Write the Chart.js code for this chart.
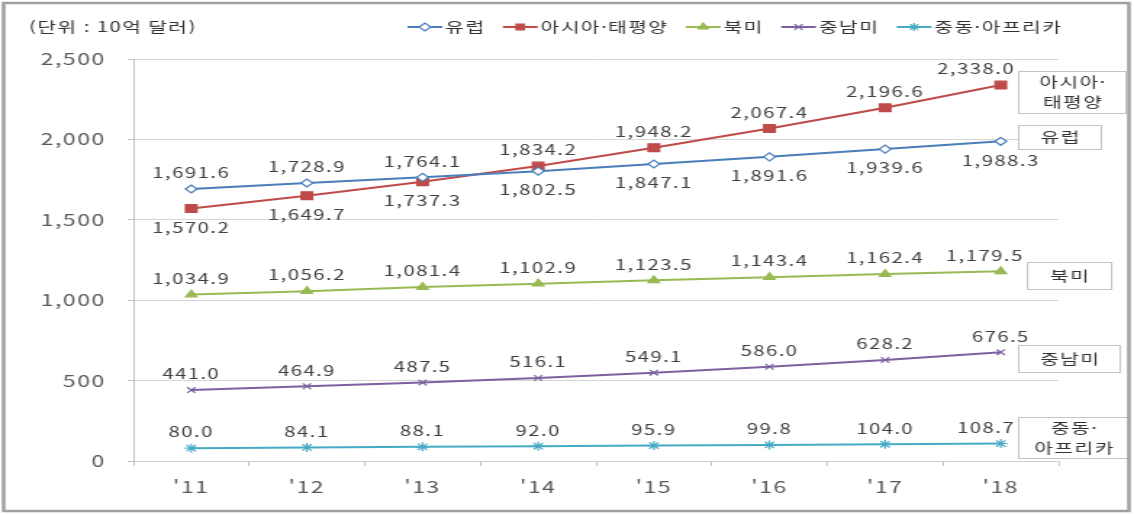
<!DOCTYPE html>
<html lang="ko">
<head>
<meta charset="utf-8">
<title>지역별 시장 규모</title>
<script src="https://cdn.jsdelivr.net/npm/chart.js@4/dist/chart.umd.min.js"></script>
<style>
  html, body { margin: 0; padding: 0; background: #fff; }
  #chart { display: block; }
</style>
</head>
<body>
<!-- the reference image is stretched sideways, so the canvas is drawn narrow and widened by CSS -->
<canvas id="chart" width="782" height="515" style="width:1134px;height:515px"></canvas>
<script>
// --- data ---
const years = ["'11", "'12", "'13", "'14", "'15", "'16", "'17", "'18"];
const seriesNames = ['유럽', '아시아·태평양', '북미', '중남미', '중동·아프리카'];
const europe = [1691.6, 1728.9, 1764.1, 1802.5, 1847.1, 1891.6, 1939.6, 1988.3];
const asiaPacific = [1570.2, 1649.7, 1737.3, 1834.2, 1948.2, 2067.4, 2196.6, 2338.0];
const northAmerica = [1034.9, 1056.2, 1081.4, 1102.9, 1123.5, 1143.4, 1162.4, 1179.5];
const latinAmerica = [441.0, 464.9, 487.5, 516.1, 549.1, 586.0, 628.2, 676.5];
const middleEastAfrica = [80.0, 84.1, 88.1, 92.0, 95.9, 99.8, 104.0, 108.7];
const yTicks = [0, 500, 1000, 1500, 2000, 2500];
const unitText = '(단위 : 10억 달러)';

const FONT = "'Noto Sans CJK KR', 'Noto Sans', sans-serif";

const fmt = v => v.toLocaleString('en-US', { minimumFractionDigits: 1, maximumFractionDigits: 1 });

// label side per point: 'up' or 'down'
const europeSide = ['up', 'up', 'up', 'down', 'down', 'down', 'down', 'down'];
const asiaSide = ['down', 'down', 'down', 'up', 'up', 'up', 'up', 'up'];

function series(label, data, color, pointStyle, radius, fill, sides) {
    return {
        label,
        data,
        borderColor: color,
        backgroundColor: fill || color,
        pointBorderColor: color,
        pointBackgroundColor: fill || color,
        pointStyle,
        pointRadius: radius,
        pointBorderWidth: 1.2,
        borderWidth: 2,
        tension: 0,
        labelSides: sides || data.map(() => 'up'),
    };
}

const datasets = [
    series(seriesNames[0], europe, '#4A7EBB', 'rectRot', 4, '#ffffff', europeSide),
    series(seriesNames[1], asiaPacific, '#BE4B48', 'rect', 5.5, null, asiaSide),
    series(seriesNames[2], northAmerica, '#98B954', 'triangle', 4.5),
    series(seriesNames[3], latinAmerica, '#7D60A0', 'crossRot', 4),
    series(seriesNames[4], middleEastAfrica, '#46AAC5', 'star', 4.5),
];

// boxes with series names at the right edge (x, y, w, h in canvas px)
const sideBoxes = [
    { lines: ['아시아·', '태평양'], x: 702, y: 71, w: 74, h: 42 },
    { lines: ['유럽'], x: 702, y: 125, w: 57, h: 24 },
    { lines: ['북미'], x: 708, y: 262, w: 58, h: 27 },
    { lines: ['중남미'], x: 702, y: 345, w: 70, h: 27 },
    { lines: ['중동·', '아프리카'], x: 702, y: 417, w: 76, h: 41 },
];

const decorPlugin = {
    id: 'decor',
    beforeDraw(chart) {
        chart.ctx.letterSpacing = '1px';
    },
    afterDatasetsDraw(chart) {
        const ctx = chart.ctx;
        ctx.save();
        ctx.font = `14px ${FONT}`;
        ctx.fillStyle = '#404040';
        ctx.textAlign = 'center';
        ctx.textBaseline = 'middle';
        chart.data.datasets.forEach((ds, i) => {
            chart.getDatasetMeta(i).data.forEach((pt, j) => {
                const text = fmt(ds.data[j]);
                const w = ctx.measureText(text).width;
                const y = ds.labelSides[j] === 'down' ? pt.y + 19 : pt.y - 16;
                let x = pt.x;
                // keep labels clear of the name boxes on the right
                sideBoxes.forEach(b => {
                    if (y + 8 > b.y && y - 8 < b.y + b.h && x + w / 2 > b.x - 2) {
                        x = b.x - 2 - w / 2;
                    }
                });
                ctx.fillText(text, x, y);
            });
        });
        ctx.restore();
    },
    afterDraw(chart) {
        const ctx = chart.ctx;
        ctx.save();
        ctx.letterSpacing = '1px';

        // unit title
        ctx.font = `14px ${FONT}`;
        ctx.fillStyle = '#333333';
        ctx.textAlign = 'left';
        ctx.textBaseline = 'middle';
        ctx.fillText(unitText, 20, 27);

        // legend
        let x = 281;
        const ly = 27;
        chart.data.datasets.forEach(ds => {
            ctx.strokeStyle = ds.borderColor;
            ctx.lineWidth = 2;
            ctx.beginPath();
            ctx.moveTo(x, ly);
            ctx.lineTo(x + 24, ly);
            ctx.stroke();
            ctx.fillStyle = ds.pointBackgroundColor;
            ctx.strokeStyle = ds.pointBorderColor;
            ctx.lineWidth = 1.2;
            Chart.helpers.drawPoint(ctx, { pointStyle: ds.pointStyle, radius: Math.min(ds.pointRadius, 4), rotation: 0, borderWidth: 1.2 }, x + 12, ly);
            ctx.fillStyle = '#333333';
            ctx.fillText(ds.label, x + 26, ly);
            x += 26 + ctx.measureText(ds.label).width + 12;
        });

        // side boxes
        sideBoxes.forEach(b => {
            ctx.fillStyle = '#ffffff';
            ctx.fillRect(b.x, b.y, b.w, b.h);
            ctx.strokeStyle = '#c4c4c4';
            ctx.lineWidth = 1;
            ctx.strokeRect(b.x + 0.5, b.y + 0.5, b.w, b.h);
            ctx.fillStyle = '#333333';
            ctx.textAlign = 'center';
            const lh = 20;
            const top = b.y + b.h / 2 - (b.lines.length - 1) * lh / 2;
            b.lines.forEach((t, k) => ctx.fillText(t, b.x + b.w / 2 + 1, top + k * lh));
        });

        // outer frame
        ctx.strokeStyle = '#a0a0a0';
        ctx.lineWidth = 2.5;
        ctx.strokeRect(2.5, 3, 776, 508);
        ctx.restore();
    }
};

new Chart(document.getElementById('chart'), {
    type: 'line',
    data: { labels: years, datasets },
    options: {
        responsive: false,
        animation: false,
        devicePixelRatio: 1,
        layout: { padding: { left: 0, right: 52, top: 59, bottom: 0 } },
        plugins: {
            legend: { display: false },
            tooltip: { enabled: false },
        },
        scales: {
            x: {
                type: 'category',
                offset: true,
                afterFit(scale) { scale.height = 54; },
                grid: {
                    offset: true,
                    drawOnChartArea: false,
                    tickLength: 5,
                    color: '#bfbfbf',
                },
                border: { display: true, color: '#cfcfcf' },
                ticks: {
                    color: '#595959',
                    font: { family: FONT, size: 16 },
                    padding: 11,
                    maxRotation: 0,
                },
            },
            y: {
                min: 0,
                max: 2500,
                afterFit(scale) { scale.width = 92; },
                afterBuildTicks(scale) { scale.ticks = yTicks.map(v => ({ value: v })); },
                grid: {
                    color: '#d6d6d6',
                    borderDash: [2, 2],
                    tickBorderDash: [],
                    tickColor: '#bfbfbf',
                    tickLength: 4,
                },
                border: { display: true, color: '#bfbfbf' },
                ticks: {
                    color: '#595959',
                    font: { family: FONT, size: 16 },
                    padding: 15,
                    callback: v => v.toLocaleString('en-US'),
                },
            },
        },
    },
    plugins: [decorPlugin],
});
</script>
</body>
</html>
